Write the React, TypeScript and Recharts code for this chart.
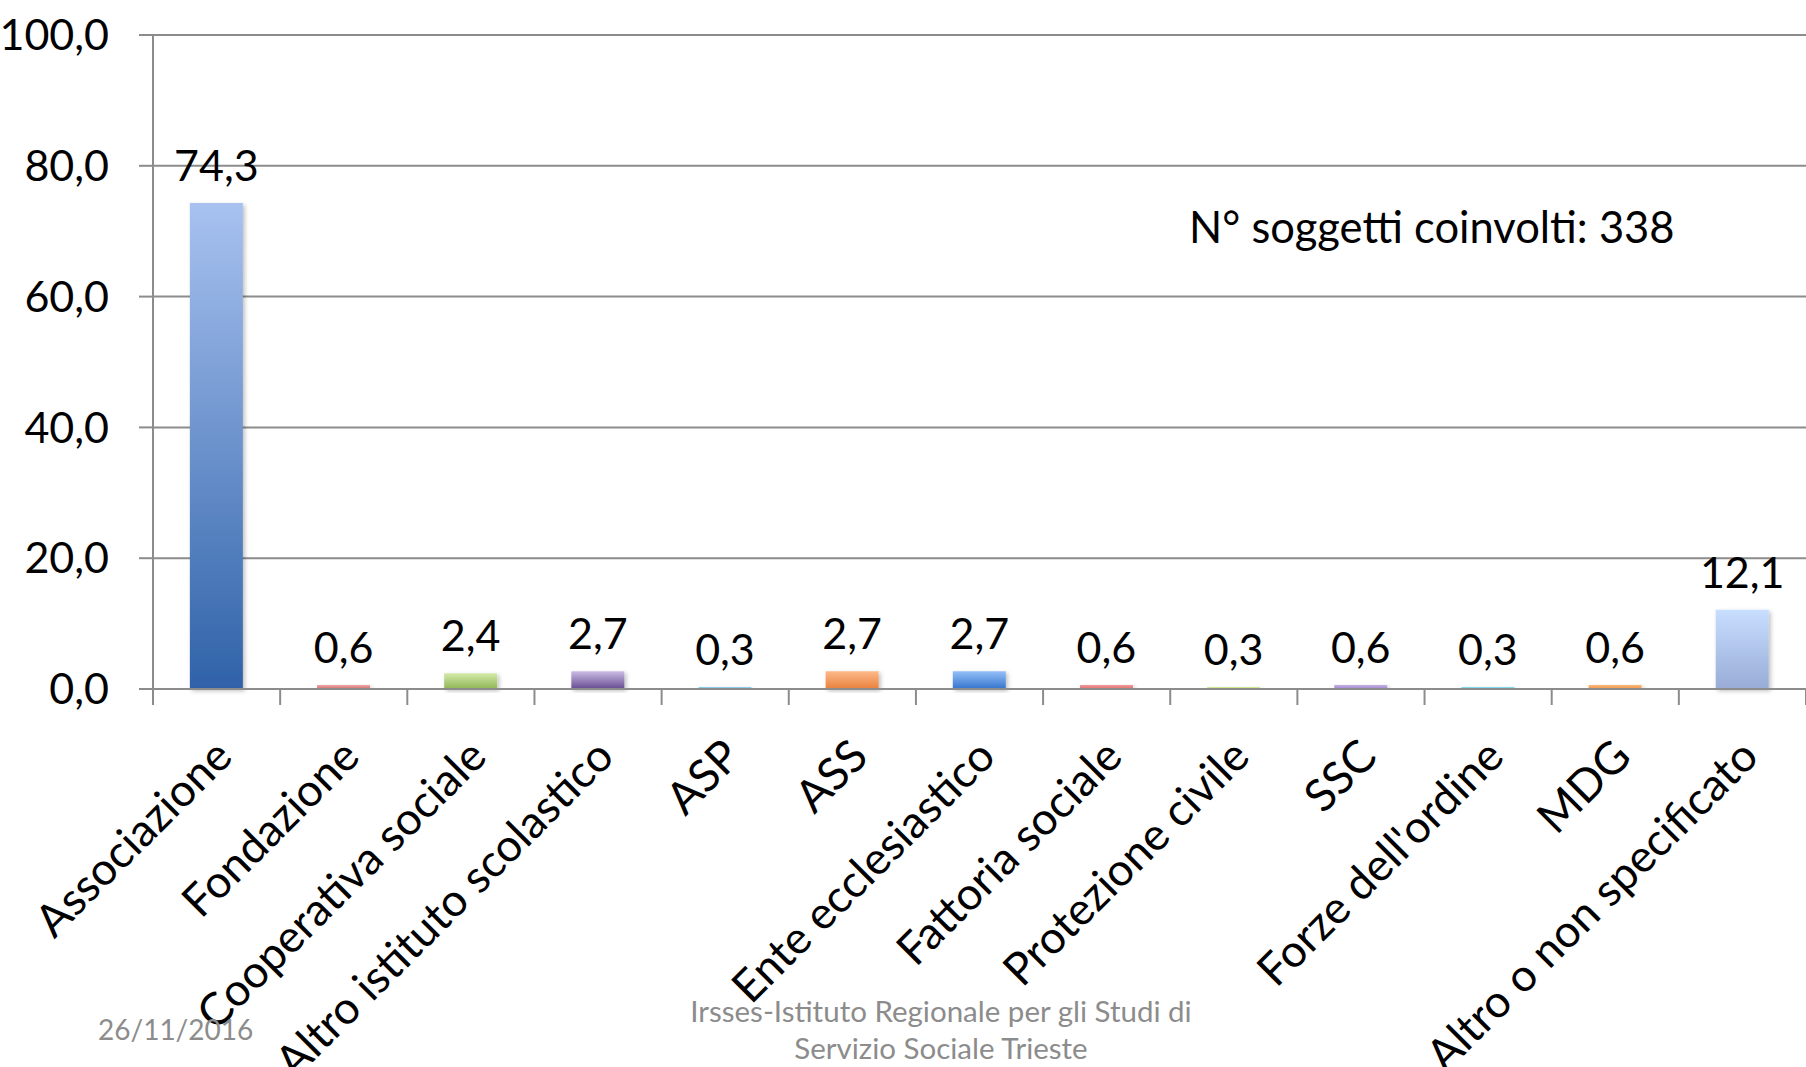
import { BarChart, Bar, Cell, XAxis, YAxis, CartesianGrid, LabelList } from "recharts";

// categories and percentages
const categories = [
  "Associazione",
  "Fondazione",
  "Cooperativa sociale",
  "Altro istituto scolastico",
  "ASP",
  "ASS",
  "Ente ecclesiastico",
  "Fattoria sociale",
  "Protezione civile",
  "SSC",
  "Forze dell'ordine",
  "MDG",
  "Altro o non specificato",
];
const percentages = [74.3, 0.6, 2.4, 2.7, 0.3, 2.7, 2.7, 0.6, 0.3, 0.6, 0.3, 0.6, 12.1];
const yTicks = [0, 20, 40, 60, 80, 100];

// gradient colours per bar: [top, bottom]
const BAR_COLORS = [
  ["#a8c2f0", "#2f62a8"],
  ["#f0a8a8", "#d06a6a"],
  ["#d4eaa8", "#8fb556"],
  ["#cbbbe4", "#654a90"],
  ["#9ad8ee", "#4aaed0"],
  ["#fdb98a", "#e8803c"],
  ["#94bff8", "#3474cc"],
  ["#f29a9a", "#e06a6a"],
  ["#d6ee9c", "#b0d070"],
  ["#c4b0e6", "#9c84cc"],
  ["#8ee0f2", "#52c0dc"],
  ["#fcb878", "#f09448"],
  ["#c8deff", "#98acd6"],
];

const data = categories.map((name, i) => ({ name, value: percentages[i] }));

const FONT = "Lato, 'Open Sans', sans-serif";
const AXIS_GREY = "#8c8c8c";
const fmt = (v: number) => v.toFixed(1).replace(".", ",");

const CategoryTick = (props: any) => {
  const { x, y, payload, index } = props;
  const half = payload?.offset ?? 63.5;
  return (
    <g>
      <line x1={x - half} y1={y} x2={x - half} y2={y + 16} stroke={AXIS_GREY} strokeWidth={2} />
      {index === categories.length - 1 && (
        <line x1={x + half} y1={y} x2={x + half} y2={y + 16} stroke={AXIS_GREY} strokeWidth={2} />
      )}
      <text
        transform={`translate(${x + 18},${y + 70}) rotate(-45)`}
        textAnchor="end"
        fontFamily={FONT}
        fontSize={45}
        fill="#000"
      >
        {payload.value}
      </text>
    </g>
  );
};

export default function App() {
  return (
    <div style={{ position: "absolute", left: 0, top: 0, width: 1806, height: 1067, background: "#fff", fontFamily: FONT }}>
      <BarChart
        width={1806}
        height={1067}
        data={data}
        margin={{ top: 35, right: 0, bottom: 78, left: 0 }}
        barCategoryGap="29%"
      >
        <defs>
          {BAR_COLORS.map(([top, bottom], i) => (
            <linearGradient key={i} id={`g${i}`} x1="0" y1="0" x2="0" y2="1">
              <stop offset="0%" stopColor={top} />
              <stop offset="100%" stopColor={bottom} />
            </linearGradient>
          ))}
          <filter id="shadow" x="-20%" y="-20%" width="140%" height="140%">
            <feDropShadow dx="2" dy="2" stdDeviation="2" floodColor="#000" floodOpacity="0.25" />
          </filter>
        </defs>
        <CartesianGrid vertical={false} stroke={AXIS_GREY} strokeWidth={2} />
        <XAxis
          dataKey="name"
          interval={0}
          height={300}
          tickSize={0}
          tickMargin={0}
          tickLine={false}
          axisLine={{ stroke: AXIS_GREY, strokeWidth: 2 }}
          tick={<CategoryTick />}
        />
        <YAxis
          domain={[0, 100]}
          ticks={yTicks}
          width={153}
          tickSize={14}
          tickMargin={30}
          tickFormatter={fmt}
          tickLine={{ stroke: AXIS_GREY, strokeWidth: 2 }}
          axisLine={{ stroke: AXIS_GREY, strokeWidth: 2 }}
          tick={{ fontSize: 43, fill: "#000", fontFamily: FONT }}
        />
        <Bar dataKey="value" isAnimationActive={false} filter="url(#shadow)">
          {data.map((_, i) => (
            <Cell key={i} fill={`url(#g${i})`} />
          ))}
          <LabelList
            dataKey="value"
            position="top"
            offset={22}
            formatter={(v: number) => fmt(v)}
            style={{ fontSize: 43, fill: "#000", fontFamily: FONT }}
          />
        </Bar>
      </BarChart>
      <div style={{ position: "absolute", left: 1189, top: 204, fontSize: 43.5, lineHeight: "44px", color: "#000", whiteSpace: "nowrap" }}>
        N° soggetti coinvolti: 338
      </div>
      <div style={{ position: "absolute", left: 98, top: 1015, fontSize: 28, lineHeight: "28px", color: AXIS_GREY }}>
        26/11/2016
      </div>
      <div style={{ position: "absolute", left: 591, width: 700, top: 992, fontSize: 29.5, lineHeight: "37px", color: AXIS_GREY, textAlign: "center", whiteSpace: "nowrap" }}>
        Irsses-Istituto Regionale per gli Studi di
        <br />
        Servizio Sociale Trieste
      </div>
    </div>
  );
}
